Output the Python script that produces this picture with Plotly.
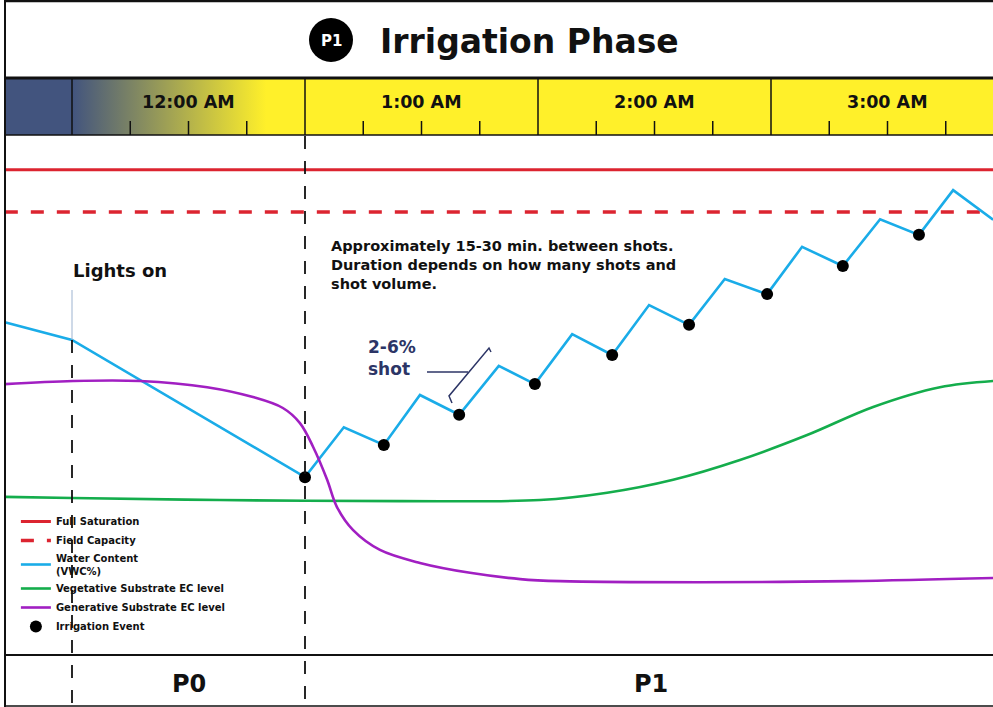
import plotly.graph_objects as go

# time is in minutes after 12:00 AM, values are relative % of the chart band
hour_starts = [0, 60, 120, 180]
hour_labels = ["12:00 AM", "1:00 AM", "2:00 AM", "3:00 AM"]
quarter_offsets = [15, 30, 45]

phase_labels = ["P0", "P1"]
phase_centers = [30, 149]

full_saturation = 93.3
field_capacity = 85.2

vwc_time = [-17.3, 0, 60, 70.0, 80.3, 89.6, 99.7, 109.9, 119.2, 128.8, 139.1, 148.6,
            158.9, 168.1, 179.0, 188.0, 198.5, 208.1, 218.1, 226.9, 237.2]
vwc_value = [64.0, 60.6, 34.2, 43.8, 40.4, 50.0, 46.2, 55.6, 52.1, 61.7, 57.7, 67.3,
             63.5, 72.3, 69.4, 78.5, 74.8, 83.8, 80.8, 89.4, 83.7]

irrigation_time = [60, 80.3, 99.7, 119.2, 139.1, 158.9, 179.0, 198.5, 218.1]
irrigation_value = [34.2, 40.4, 46.2, 52.1, 57.7, 63.5, 69.4, 74.8, 80.8]

veg_time = [-17.3, 0, 38.1, 84.5, 120.5, 137.8, 154.8, 172.0, 189.3, 206.3, 223.5, 237.2]
veg_value = [30.4, 30.2, 29.8, 29.6, 29.8, 31.2, 33.7, 37.5, 42.3, 47.7, 51.5, 52.7]

gen_time = [-17.3, 0.3, 17.5, 34.8, 46.6, 54.3, 58.7, 62.1, 65.7, 68.2, 72.4, 79.3,
            89.6, 102.5, 115.4, 125.7, 161.7, 200.3, 237.2]
gen_value = [52.1, 52.7, 52.7, 51.5, 49.6, 47.5, 44.6, 40.0, 33.7, 28.5, 24.0, 20.2,
             17.7, 15.8, 14.6, 14.2, 14.0, 14.2, 14.8]

W, H = 993, 707
RED = "#dc2430"
BLUE = "#1aace8"
GREEN = "#14ad4c"
PURPLE = "#a11fc2"
NAVY = "#42547e"
YELLOW = "#fff02a"
INK = "#111111"
SHOT = "#2c3566"
FONT = "DejaVu Sans"


def xpx(p):
    return (p - 72) * 60 / 233


def ypx(p):
    return (655 - p) / 5.2


def pap(p):
    return 1 - p / H


fig = go.Figure()

# gradient where the lights come on
fig.add_trace(go.Scatter(
    x=[0, 50, 50, 0, 0], y=[ypx(135), ypx(135), ypx(78), ypx(78), ypx(135)],
    mode="lines", fill="toself", line=dict(width=0),
    fillgradient=dict(type="horizontal", colorscale=[[0, NAVY], [1, YELLOW]]),
    showlegend=False, hoverinfo="skip"))

x_ends = [vwc_time[0], vwc_time[-1]]
fig.add_trace(go.Scatter(x=x_ends, y=[full_saturation] * 2, mode="lines",
                         name="Full Saturation", line=dict(color=RED, width=3)))
fig.add_trace(go.Scatter(x=x_ends, y=[field_capacity] * 2, mode="lines",
                         name="Field Capacity", line=dict(color=RED, width=3.5, dash="13px,13px")))
fig.add_trace(go.Scatter(x=vwc_time, y=vwc_value, mode="lines",
                         name="Water Content<br>(VWC%)", line=dict(color=BLUE, width=2.6)))
fig.add_trace(go.Scatter(x=veg_time, y=veg_value, mode="lines",
                         name="Vegetative Substrate EC level",
                         line=dict(color=GREEN, width=2.6, shape="spline", smoothing=1)))
fig.add_trace(go.Scatter(x=gen_time, y=gen_value, mode="lines",
                         name="Generative Substrate EC level",
                         line=dict(color=PURPLE, width=2.6, shape="spline", smoothing=1)))
fig.add_trace(go.Scatter(x=irrigation_time, y=irrigation_value, mode="markers",
                         name="Irrigation Event", marker=dict(color="black", size=12)))

shapes = []


def hline(p, w, x0=0.005, x1=1):
    shapes.append(dict(type="line", xref="paper", yref="paper", x0=x0, x1=x1,
                       y0=pap(p), y1=pap(p), line=dict(color=INK, width=w), layer="above"))


# header band
shapes.append(dict(type="rect", xref="x", yref="paper", x0=0, x1=x_ends[1] + 5,
                   y0=pap(135), y1=pap(78), fillcolor=YELLOW, line=dict(width=0), layer="below"))
shapes.append(dict(type="rect", xref="x", yref="paper", x0=xpx(5), x1=0,
                   y0=pap(135), y1=pap(78), fillcolor=NAVY, line=dict(width=0), layer="below"))
for h in hour_starts:
    shapes.append(dict(type="line", xref="x", yref="paper", x0=h, x1=h,
                       y0=pap(135), y1=pap(78), line=dict(color=INK, width=1.5), layer="above"))
    for q in quarter_offsets:
        shapes.append(dict(type="line", xref="x", yref="paper", x0=h + q, x1=h + q,
                           y0=pap(135), y1=pap(121), line=dict(color=INK, width=1.5), layer="above"))

hline(1, 2.5)
hline(78, 3)
hline(135, 1.5)
hline(655, 2)
hline(706, 1.5)
shapes.append(dict(type="line", xref="paper", yref="paper", x0=5 / W, x1=5 / W, y0=0, y1=1,
                   line=dict(color=INK, width=2), layer="above"))

# phase markers
shapes.append(dict(type="line", xref="x", yref="paper", x0=0, x1=0, y0=pap(290), y1=pap(340),
                   line=dict(color="#9db3d0", width=1)))
shapes.append(dict(type="line", xref="x", yref="paper", x0=0, x1=0, y0=pap(340), y1=0,
                   line=dict(color=INK, width=1.8, dash="13px,12px")))
shapes.append(dict(type="line", xref="x", yref="paper", x0=60, x1=60, y0=pap(136), y1=0,
                   line=dict(color=INK, width=1.8, dash="13px,12px")))

# title badge
shapes.append(dict(type="circle", xref="paper", yref="paper",
                   x0=309 / W, x1=353 / W, y0=pap(62), y1=pap(18),
                   fillcolor="black", line=dict(width=0)))

# shot size bracket
shapes.append(dict(type="path", xref="x", yref="y", line=dict(color=SHOT, width=1.5),
                   path=f"M {xpx(452)},{ypx(403)} L {xpx(449)},{ypx(396)} L {xpx(489)},{ypx(348)} "
                        f"L {xpx(491)},{ypx(352)}"))
shapes.append(dict(type="line", xref="x", yref="y", x0=xpx(427), x1=xpx(468),
                   y0=ypx(372), y1=ypx(372), line=dict(color=SHOT, width=1.5)))


def note(text, x, y, size, xref="x", xanchor="center", color=INK, bold=True, align="center"):
    return dict(text=text, x=x, y=y, xref=xref, yref="paper", xanchor=xanchor, yanchor="middle",
                align=align, showarrow=False,
                font=dict(family=FONT, size=size, color=color, weight="bold" if bold else "normal"))


annotations = [
    note("P1", 331 / W, pap(41), 15, xref="paper", color="white"),
    note("Irrigation Phase", 529 / W, pap(41), 33, xref="paper"),
    note("Lights on", xpx(71), pap(270), 18, xanchor="left"),
    note("Approximately 15-30 min. between shots.<br>Duration depends on how many shots and"
         "<br>shot volume.", xpx(329), pap(265), 14.5, xanchor="left", align="left"),
    note("2-6%<br>shot", xpx(366), pap(358), 17, xanchor="left", color=SHOT, align="left"),
]
for h, lab in zip(hour_starts, hour_labels):
    annotations.append(note(lab, h + 30, pap(102), 17.5))
for c, lab in zip(phase_centers, phase_labels):
    annotations.append(note(lab, c, pap(684), 24))

fig.update_layout(
    width=W, height=H,
    margin=dict(l=0, r=0, t=0, b=0),
    plot_bgcolor="white",
    paper_bgcolor="white",
    xaxis=dict(range=[xpx(0), xpx(W)], visible=False, fixedrange=True),
    yaxis=dict(range=[ypx(H), ypx(0)], visible=False, fixedrange=True),
    shapes=shapes,
    annotations=annotations,
    showlegend=True,
    legend=dict(x=0.016, y=pap(507), xanchor="left", yanchor="top", bgcolor="rgba(0,0,0,0)",
                font=dict(family=FONT, size=10, color=INK, weight="bold"), tracegroupgap=0),
    hovermode=False,
)

# drop the page's default body margin so the figure fills the window
fig.write_html("out.html", config={"displayModeBar": False},
               post_script="document.body.style.margin = '0';")
